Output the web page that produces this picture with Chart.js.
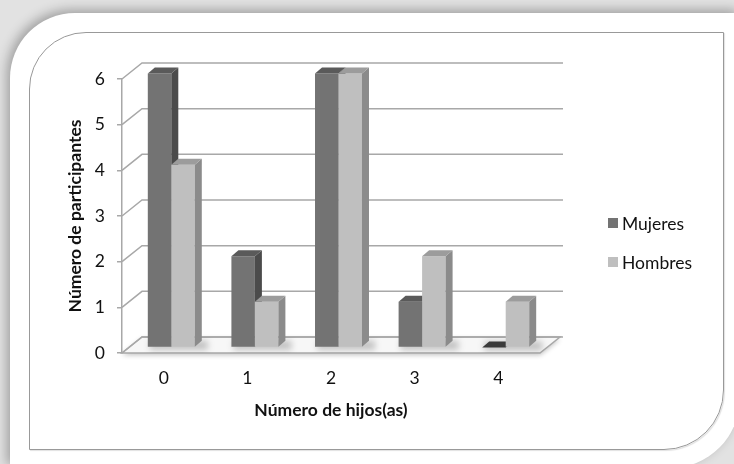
<!DOCTYPE html>
<html>
<head>
<meta charset="utf-8">
<script src="https://cdn.jsdelivr.net/npm/chart.js@4/dist/chart.umd.min.js"></script>
<style>
  html, body { margin: 0; padding: 0; }
  body { width: 734px; height: 464px; overflow: hidden; position: relative; background: #e2e2e2; }
  #sheet {
    position: absolute; left: 10px; top: 13px; width: 730px; height: 455px;
    background: #ffffff;
    border-top-left-radius: 65px; border-bottom-right-radius: 70px;
    box-shadow: -3px -3px 12px rgba(0,0,0,0.3);
  }
  #frame {
    position: absolute; left: 29px; top: 32px; width: 695px; height: 418px;
    box-sizing: border-box; border: 1px solid #999999;
    border-top-left-radius: 57px; border-bottom-right-radius: 60px;
    box-shadow: 1px 1px 1px rgba(0,0,0,0.12);
  }
  canvas { position: absolute; left: 0; top: 0; }
</style>
</head>
<body>
<div id="sheet"></div>
<div id="frame"></div>
<canvas id="c" width="734" height="464"></canvas>
<script>
// Number of children per participant, split by sex
const categories = ['0', '1', '2', '3', '4'];
const mujeres = [6, 2, 6, 1, 0];
const hombres = [4, 1, 6, 2, 1];
const yMin = 0, yMax = 6, yStep = 1;

const FONT = 'Lato, "Open Sans", sans-serif';
const FSIZE = 17.5;
const TEXT = '#111111';
const GRID = '#a8a8a8';

// 3D geometry (pixels): full depth of the box and bar placement inside it
const DEPTH = { dx: 20, dy: -16 };
const BAR_OFF = { dx: 7.5, dy: -5.5 };
const BAR_DEPTH = { dx: 7, dy: -6 };

const faces = [
  { front: '#737373', top: '#5a5a5a', side: '#4b4b4b', flat: '#3a3a3a' },
  { front: '#bfbfbf', top: '#9c9c9c', side: '#8b8b8b', flat: '#8b8b8b' }
];

function poly(ctx, pts, fill, stroke) {
  ctx.beginPath();
  ctx.moveTo(pts[0][0], pts[0][1]);
  for (let i = 1; i < pts.length; i++) ctx.lineTo(pts[i][0], pts[i][1]);
  ctx.closePath();
  if (fill) { ctx.fillStyle = fill; ctx.fill(); }
  if (stroke) { ctx.strokeStyle = stroke; ctx.stroke(); }
}

const box3d = {
  id: 'box3d',
  beforeDatasetsDraw(chart) {
    const { ctx, chartArea: a, scales: { y } } = chart;
    const y0 = y.getPixelForValue(yMin);
    const floor = [[a.left, y0], [a.right, y0], [a.right + DEPTH.dx, y0 + DEPTH.dy], [a.left + DEPTH.dx, y0 + DEPTH.dy]];
    ctx.save();
    ctx.lineWidth = 1.5;
    ctx.strokeStyle = GRID;

    // floor plate with a soft shadow under it
    ctx.save();
    ctx.shadowColor = 'rgba(0,0,0,0.25)';
    ctx.shadowBlur = 5;
    ctx.shadowOffsetY = 2;
    poly(ctx, floor, '#f7f7f7');
    ctx.restore();
    poly(ctx, floor, null, GRID);

    // gridlines on side wall and back wall
    y.ticks.forEach(t => {
      const py = y.getPixelForValue(t.value);
      ctx.beginPath();
      ctx.moveTo(a.left, py);
      ctx.lineTo(a.left + DEPTH.dx, py + DEPTH.dy);
      ctx.lineTo(a.right + DEPTH.dx + 3, py + DEPTH.dy);
      ctx.stroke();
    });

    const metas = chart.data.datasets.map((d, i) => chart.getDatasetMeta(i));

    // soft shadows cast on the floor by each bar group
    ctx.save();
    ctx.beginPath();
    ctx.moveTo(floor[0][0], floor[0][1]);
    floor.slice(1).forEach(p => ctx.lineTo(p[0], p[1]));
    ctx.closePath();
    ctx.clip();
    ctx.filter = 'blur(3px)';
    categories.forEach((c, i) => {
      const first = metas[0].data[i], last = metas[metas.length - 1].data[i];
      const xs = first.x - first.width / 2 + BAR_OFF.dx;
      const xe = last.x + last.width / 2 + BAR_OFF.dx + BAR_DEPTH.dx;
      const yb = first.base + BAR_OFF.dy;
      ctx.fillStyle = 'rgba(0,0,0,0.22)';
      ctx.fillRect(xs + 2, yb - 6, xe - xs + 4, 9);
    });
    ctx.restore();

    // bars, category by category so the front bar hides the one behind
    categories.forEach((c, i) => {
      metas.forEach((meta, di) => {
        const el = meta.data[i];
        const f = faces[di];
        const x0 = el.x - el.width / 2 + BAR_OFF.dx;
        const x1 = el.x + el.width / 2 + BAR_OFF.dx;
        const yt = el.y + BAR_OFF.dy;
        const yb = el.base + BAR_OFF.dy;
        const dx = BAR_DEPTH.dx, dy = BAR_DEPTH.dy;
        const v = chart.data.datasets[di].data[i];
        if (yb - yt > 0.5) {
          poly(ctx, [[x0, yt], [x1, yt], [x1, yb], [x0, yb]], f.front);
          poly(ctx, [[x1, yt], [x1 + dx, yt + dy], [x1 + dx, yb + dy], [x1, yb]], f.side);
        }
        poly(ctx, [[x0, yt], [x1, yt], [x1 + dx, yt + dy], [x0 + dx, yt + dy]], v === 0 ? f.flat : f.top);
      });
    });
    ctx.restore();
    return false;
  },
  afterDraw(chart) {
    // legend at the right, built from the datasets
    const { ctx } = chart;
    ctx.save();
    ctx.font = FSIZE + 'px ' + FONT;
    ctx.textBaseline = 'middle';
    chart.data.datasets.forEach((d, i) => {
      const cy = 223 + i * 39;
      ctx.fillStyle = d.backgroundColor;
      ctx.fillRect(608, cy - 5, 10, 10);
      ctx.fillStyle = TEXT;
      ctx.fillText(d.label, 622, cy + 1);
    });
    ctx.restore();
  }
};

new Chart(document.getElementById('c'), {
  type: 'bar',
  data: {
    labels: categories,
    datasets: [
      { label: 'Mujeres', data: mujeres, backgroundColor: faces[0].front, categoryPercentage: 0.562, barPercentage: 1 },
      { label: 'Hombres', data: hombres, backgroundColor: faces[1].front, categoryPercentage: 0.562, barPercentage: 1 }
    ]
  },
  options: {
    responsive: false,
    animation: false,
    devicePixelRatio: 1,
    layout: { padding: { left: 60, right: 194, top: 79, bottom: 30 } },
    plugins: { legend: { display: false }, tooltip: { enabled: false } },
    scales: {
      x: {
        grid: { display: false, drawTicks: false },
        border: { display: false },
        ticks: { color: TEXT, font: { family: FONT, size: FSIZE }, padding: 15 },
        title: {
          display: true, text: 'Número de hijos(as)', color: TEXT,
          font: { family: FONT, size: FSIZE, weight: 'bold' }, padding: { top: 0, bottom: 13 }
        },
        afterFit(s) { s.height = 81; }
      },
      y: {
        min: yMin, max: yMax,
        ticks: { stepSize: yStep, color: TEXT, font: { family: FONT, size: FSIZE }, padding: 12 },
        grid: { drawOnChartArea: false, drawTicks: true, tickLength: 5, color: GRID, lineWidth: 1.5 },
        border: { display: true, color: GRID, width: 1.5 },
        title: {
          display: true, text: 'Número de participantes', color: TEXT,
          font: { family: FONT, size: FSIZE, weight: 'bold' }, padding: { top: 5, bottom: 0 }
        },
        afterFit(s) { s.width = 62; }
      }
    }
  },
  plugins: [box3d]
});
</script>
</body>
</html>
